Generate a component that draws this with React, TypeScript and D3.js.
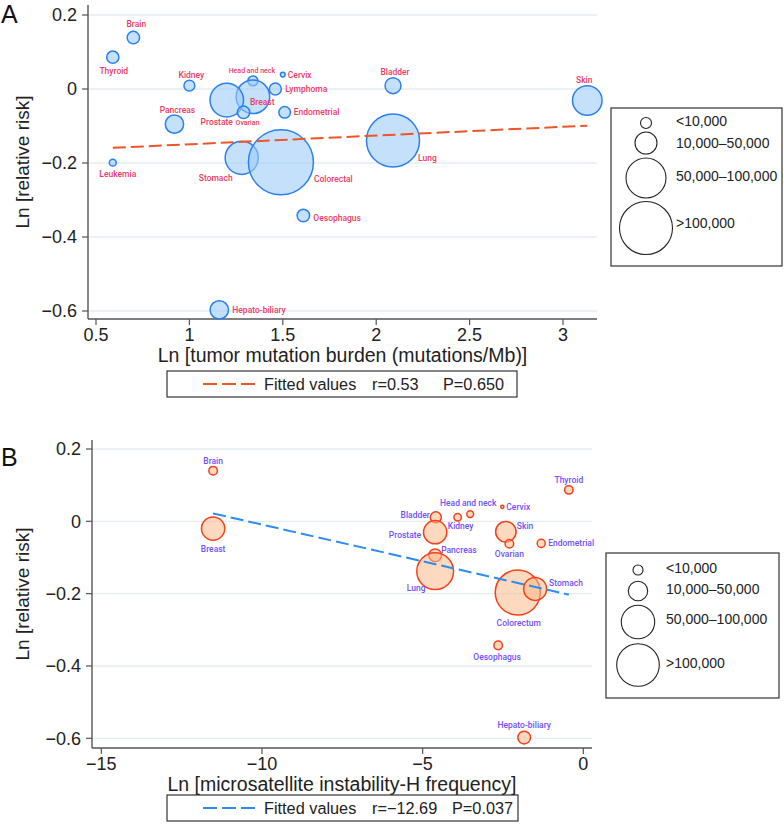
import React from "react";
import * as d3 from "d3";

// ---------- Panel A data ----------
const namesA = ["Brain", "Thyroid", "Kidney", "Head and neck", "Cervix", "Lymphoma", "Breast", "Prostate", "Ovarian", "Endometrial", "Pancreas", "Leukemia", "Stomach", "Colorectal", "Bladder", "Skin", "Lung", "Oesophagus", "Hepato-biliary"];
const tmbA = [0.70, 0.59, 1.00, 1.34, 1.50, 1.46, 1.34, 1.20, 1.29, 1.51, 0.92, 0.59, 1.28, 1.49, 2.09, 3.13, 2.09, 1.61, 1.16];
const rrA = [0.139, 0.086, 0.009, 0.022, 0.039, 0.0, -0.021, -0.030, -0.063, -0.063, -0.095, -0.199, -0.186, -0.198, 0.009, -0.031, -0.139, -0.342, -0.597];
const weightA = [5.5, 5.3, 4.2, 3.5, 0.8, 5.1, 40, 40, 5.5, 4.8, 12, 1.7, 39, 150, 9, 31, 100, 5.5, 12];
const fitA = { intercept: -0.173, slope: 0.0236, r: "0.53", p: "0.650" };

// ---------- Panel B data ----------
const namesB = ["Brain", "Breast", "Thyroid", "Cervix", "Head and neck", "Kidney", "Bladder", "Prostate", "Skin", "Ovarian", "Endometrial", "Pancreas", "Lung", "Colorectum", "Stomach", "Oesophagus", "Hepato-biliary"];
const msiB = [-11.52, -11.52, -0.45, -2.52, -3.52, -3.91, -4.59, -4.61, -2.41, -2.30, -1.31, -4.61, -4.61, -2.04, -1.50, -2.65, -1.84];
const rrB = [0.140, -0.020, 0.087, 0.040, 0.020, 0.011, 0.011, -0.030, -0.029, -0.062, -0.061, -0.094, -0.138, -0.197, -0.187, -0.343, -0.598];
const weightB = [5.5, 40, 5.3, 0.8, 3.5, 4.2, 9, 40, 31, 5.5, 4.8, 12, 100, 150, 39, 5.5, 12];
const fitB = { intercept: -0.212, slope: -0.0203, r: "\u221212.69", p: "0.037" };

// ---------- ticks / legend ----------
const yTicks = [0.2, 0, -0.2, -0.4, -0.6];
const xTicksA = [0.5, 1, 1.5, 2, 2.5, 3];
const xTicksB = [-15, -10, -5, 0];
const sizeLegend = ["<10,000", "10,000\u201350,000", "50,000\u2013100,000", ">100,000"];

// label placements: [dx, dy, anchor, small]
const labelPosA: Record<string, [number, number, string, boolean?]> = {
  "Brain": [3, -14, "middle"],
  "Thyroid": [1, 14, "middle"],
  "Kidney": [2, -11, "middle"],
  "Head and neck": [-1, -10, "middle", true],
  "Cervix": [5, 0, "start"],
  "Lymphoma": [10, 0, "start"],
  "Breast": [-3, 5, "start"],
  "Prostate": [-10, 22, "middle"],
  "Ovarian": [4, 10, "middle", true],
  "Endometrial": [9, 0, "start"],
  "Pancreas": [3, -14, "middle"],
  "Leukemia": [5, 11, "middle"],
  "Stomach": [-26, 20, "middle"],
  "Colorectal": [33, 17, "start"],
  "Bladder": [2, -14, "middle"],
  "Skin": [-3, -20, "middle"],
  "Lung": [25, 18, "start"],
  "Oesophagus": [10, 2, "start"],
  "Hepato-biliary": [13, 0, "start"],
};
const labelPosB: Record<string, [number, number, string, boolean?]> = {
  "Brain": [0, -10, "middle"],
  "Breast": [0, 20, "middle"],
  "Thyroid": [0, -10, "middle"],
  "Head and neck": [-2, -11, "middle"],
  "Cervix": [4, 0, "start"],
  "Bladder": [-6, -2, "end"],
  "Kidney": [3, 9, "middle"],
  "Prostate": [-14, 3, "end"],
  "Skin": [11, -6, "start"],
  "Ovarian": [0, 10, "middle"],
  "Endometrial": [7, 0, "start"],
  "Pancreas": [6, -5, "start"],
  "Lung": [-19, 17, "middle"],
  "Stomach": [14, -6, "start"],
  "Colorectum": [1, 30, "middle"],
  "Oesophagus": [-1, 12, "middle"],
  "Hepato-biliary": [0, -13, "middle"],
};

const FONT = "'Liberation Sans', Arial, Helvetica, sans-serif";
const LABEL_FONT = "Roboto, 'Noto Sans', sans-serif";

const fmt = (v: number) => {
  const s = String(v);
  return s.startsWith("-") ? "\u2212" + s.slice(1) : s;
};

type PanelProps = {
  letter: string;
  letterY: number;
  names: string[];
  xs: number[];
  ys: number[];
  ws: number[];
  xDomain: [number, number];
  xRange: [number, number];
  yRange: [number, number];
  axisX: number;
  axisYTop: number;
  axisYBottom: number;
  plotRight: number;
  xTicks: number[];
  rMax: number;
  fit: { intercept: number; slope: number; r: string; p: string };
  fitColor: string;
  fill: string;
  fillOpacity: number;
  stroke: string;
  labelColor: string;
  labelPos: Record<string, [number, number, string, boolean?]>;
  xTitle: string;
  pX: number;
  legendBox: { x: number; y: number; w: number; h: number };
  sizeBox: { x: number; y: number; w: number; h: number; cx: number; tx: number; cys: number[]; rs: number[]; tys: number[] };
};

function Panel(p: PanelProps) {
  const x = d3.scaleLinear().domain(p.xDomain).range(p.xRange);
  const y = d3.scaleLinear().domain([-0.6, 0.2]).range(p.yRange);
  const r = d3.scaleSqrt().domain([0, 150]).range([0, p.rMax]);
  const xMin = d3.min(p.xs) as number;
  const xMax = d3.max(p.xs) as number;
  const fitLine = d3.line<number>().x((v) => x(v)).y((v) => y(p.fit.intercept + p.fit.slope * v));
  const yMid = (p.axisYTop + p.axisYBottom) / 2;
  const xMid = (p.axisX + p.plotRight) / 2;
  const lb = p.legendBox;
  const sb = p.sizeBox;
  return (
    <g>
      <text x={1} y={p.letterY} fontFamily={FONT} fontSize={25} fill="#111">{p.letter}</text>
      {yTicks.map((t) => (
        <line key={"g" + t} x1={p.axisX} x2={p.plotRight} y1={y(t)} y2={y(t)} stroke="#E3EEF0" strokeWidth={1.3} />
      ))}
      <line x1={p.axisX} x2={p.axisX} y1={p.axisYTop} y2={p.axisYBottom} stroke="#555" strokeWidth={1.4} />
      <line x1={p.axisX} x2={p.plotRight} y1={p.axisYBottom} y2={p.axisYBottom} stroke="#555" strokeWidth={1.4} />
      {yTicks.map((t) => (
        <g key={"yt" + t}>
          <line x1={p.axisX - 6} x2={p.axisX} y1={y(t)} y2={y(t)} stroke="#555" strokeWidth={1.2} />
          <text x={p.axisX - 11} y={y(t)} dy="0.35em" textAnchor="end" fontFamily={FONT} fontSize={18} fill="#222">{fmt(t)}</text>
        </g>
      ))}
      {p.xTicks.map((t) => (
        <g key={"xt" + t}>
          <line x1={x(t)} x2={x(t)} y1={p.axisYBottom} y2={p.axisYBottom + 6} stroke="#555" strokeWidth={1.2} />
          <text x={x(t)} y={p.axisYBottom + 22} textAnchor="middle" fontFamily={FONT} fontSize={18} fill="#222">{fmt(t)}</text>
        </g>
      ))}
      <text transform={`translate(${22},${yMid}) rotate(-90)`} dy="0.35em" textAnchor="middle" fontFamily={FONT} fontSize={19} fill="#222">Ln [relative risk]</text>
      <text x={xMid} y={p.axisYBottom + 43} textAnchor="middle" fontFamily={FONT} fontSize={19.5} fill="#222">{p.xTitle}</text>
      {p.names.map((n, i) => (
        <circle key={"c" + n} cx={x(p.xs[i])} cy={y(p.ys[i])} r={r(p.ws[i])} fill={p.fill} fillOpacity={p.fillOpacity} stroke={p.stroke} strokeWidth={1.5} />
      ))}
      {p.names.map((n, i) => {
        const lp = p.labelPos[n] || [0, -10, "middle"];
        return (
          <text key={"l" + n} x={x(p.xs[i]) + lp[0]} y={y(p.ys[i]) + lp[1]} dy="0.35em" textAnchor={lp[2]} fontFamily={LABEL_FONT} fontWeight={500} fontSize={lp[3] ? 7 : 8.5} fill={p.labelColor}>{n}</text>
        );
      })}
      <path d={fitLine([xMin, xMax]) || ""} fill="none" stroke={p.fitColor} strokeWidth={2} strokeDasharray="13,5" />
      <rect x={lb.x} y={lb.y} width={lb.w} height={lb.h} fill="white" stroke="#333" strokeWidth={1.2} />
      <line x1={lb.x + 36} x2={lb.x + 90} y1={lb.y + lb.h / 2} y2={lb.y + lb.h / 2} stroke={p.fitColor} strokeWidth={2} strokeDasharray="14,5" />
      <text x={lb.x + 97} y={lb.y + lb.h / 2} dy="0.35em" fontFamily={FONT} fontSize={16.3} fill="#222">Fitted values</text>
      <text x={lb.x + 205} y={lb.y + lb.h / 2} dy="0.35em" fontFamily={FONT} fontSize={16.3} fill="#222">{"r=" + p.fit.r}</text>
      <text x={lb.x + p.pX} y={lb.y + lb.h / 2} dy="0.35em" fontFamily={FONT} fontSize={16.3} fill="#222">{"P=" + p.fit.p}</text>
      <rect x={sb.x} y={sb.y} width={sb.w} height={sb.h} fill="white" stroke="#333" strokeWidth={1.2} />
      {sizeLegend.map((s, i) => (
        <g key={"s" + s}>
          <circle cx={sb.cx} cy={sb.cys[i]} r={sb.rs[i]} fill="none" stroke="#222" strokeWidth={1.1} />
          <text x={sb.tx} y={sb.tys[i]} dy="0.35em" fontFamily={FONT} fontSize={14} fill="#222">{s}</text>
        </g>
      ))}
    </g>
  );
}

export default function App() {
  return (
    <svg width={784} height={827} style={{ position: "absolute", left: 0, top: 0, background: "white" }}>
      <rect width={784} height={827} fill="white" />
      <Panel
        letter="A"
        letterY={23}
        names={namesA}
        xs={tmbA}
        ys={rrA}
        ws={weightA}
        xDomain={[0.5, 3]}
        xRange={[96, 563]}
        yRange={[311, 15]}
        axisX={88}
        axisYTop={5}
        axisYBottom={319}
        plotRight={597}
        xTicks={xTicksA}
        rMax={32.5}
        fit={fitA}
        fitColor="#F05428"
        fill="#9DCBF7"
        fillOpacity={0.6}
        stroke="#2A80F0"
        labelColor="#EE3A68"
        labelPos={labelPosA}
        xTitle="Ln [tumor mutation burden (mutations/Mb)]"
        pX={276}
        legendBox={{ x: 167, y: 371, w: 350, h: 26 }}
        sizeBox={{ x: 611, y: 108, w: 171, h: 158, cx: 646, tx: 676, cys: [123, 143, 178, 228], rs: [5.5, 11, 20, 26.5], tys: [121, 143, 176, 223] }}
      />
      <Panel
        letter="B"
        letterY={466}
        names={namesB}
        xs={msiB}
        ys={rrB}
        ws={weightB}
        xDomain={[-15, 0]}
        xRange={[101.3, 583.3]}
        yRange={[738.3, 449]}
        axisX={92}
        axisYTop={440}
        axisYBottom={748}
        plotRight={592}
        xTicks={xTicksB}
        rMax={22.5}
        fit={fitB}
        fitColor="#2D8CF0"
        fill="#F9B98A"
        fillOpacity={0.55}
        stroke="#F5401A"
        labelColor="#7050FF"
        labelPos={labelPosB}
        xTitle="Ln [microsatellite instability-H frequency]"
        pX={285}
        legendBox={{ x: 167, y: 795, w: 351, h: 26 }}
        sizeBox={{ x: 606, y: 553, w: 173, h: 145, cx: 638, tx: 666, cys: [570, 591, 622, 665], rs: [5, 9.7, 16.7, 21.3], tys: [568, 589, 619, 663] }}
      />
    </svg>
  );
}
